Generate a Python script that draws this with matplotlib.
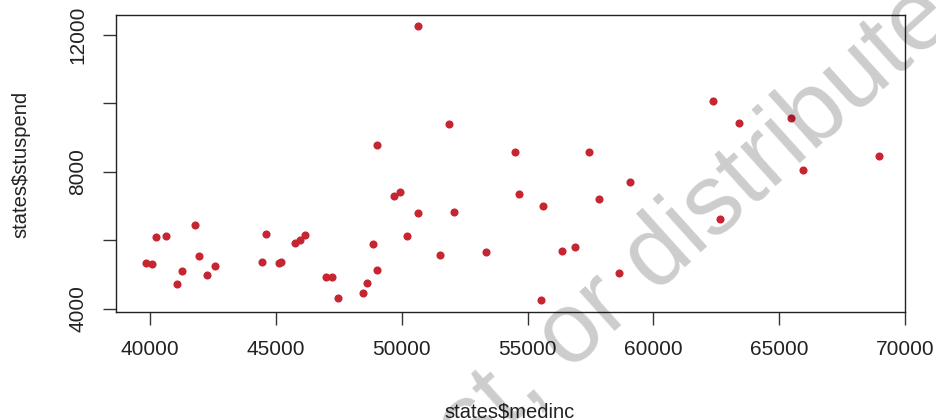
import matplotlib
matplotlib.use("Agg")
import matplotlib.pyplot as plt

plt.rcParams['font.family'] = ['Liberation Sans', 'DejaVu Sans']

medinc = [39829, 40067, 40251, 40625, 41063, 41287, 41794, 41940, 42258, 42577,
          44437, 44623, 45113, 45193, 45751, 45950, 46138, 47003, 47242, 47473,
          48462, 48621, 48876, 49035, 49035, 49685, 49924, 50629, 50641, 50215,
          51865, 52076, 51531, 53364, 54519, 54655, 55624, 57457, 57843, 59078,
          56376, 56870, 55517, 58653, 62387, 63384, 65468, 65934, 68952, 62666]
stuspend = [5334, 5305, 6102, 6140, 4721, 5118, 6443, 5556, 5002, 5265,
            5372, 6180, 5334, 5363, 5918, 6023, 6152, 4925, 4934, 4312,
            4476, 4768, 5907, 5130, 8797, 7308, 7425, 12254, 6794, 6140,
            9401, 6832, 5577, 5673, 8575, 7367, 7017, 8575, 7203, 7699,
            5702, 5801, 4254, 5051, 10073, 9440, 9577, 8067, 8458, 6619]

xticks = [40000, 45000, 50000, 55000, 60000, 65000, 70000]
yticks = [4000, 6000, 8000, 10000, 12000]
ytick_labels = ['4000', '', '8000', '', '12000']

W, H = 937, 420
fig = plt.figure(figsize=(W / 100, H / 100), dpi=100)
ax = fig.add_axes([116 / W, 1 - 312 / H, (905 - 116) / W, (312 - 15) / H])

ax.scatter(medinc, stuspend, s=34, color='#C62631', linewidths=0, zorder=3)

ax.set_xlim(38645, 70000)
ax.set_ylim(3912, 12584)
ax.set_xticks(xticks)
ax.set_xticklabels([str(v) for v in xticks])
ax.set_yticks(yticks)
ax.set_yticklabels(ytick_labels, rotation=90, va='center')
ax.tick_params(axis='both', length=9.5, width=1, color='#333333', labelsize=15,
               labelcolor='#222222', pad=11)
for sp in ax.spines.values():
    sp.set_linewidth(1)
    sp.set_color('#222222')

fig.text(510 / W, 1 - 417.5 / H, 'states$medinc', ha='center', va='baseline',
         fontsize=14.5, color='#222222')
fig.text(21 / W, 1 - 164 / H, 'states$stuspend', ha='center', va='center',
         rotation=90, fontsize=14.5, color='#222222')

fig.text(957 / W, 1 - 23 / H, 'Do not copy, post, or distribute', ha='right',
         va='baseline', rotation=42, rotation_mode='anchor', fontsize=72,
         color='black', alpha=0.2, zorder=10)

fig.savefig('out.png', dpi=100)
